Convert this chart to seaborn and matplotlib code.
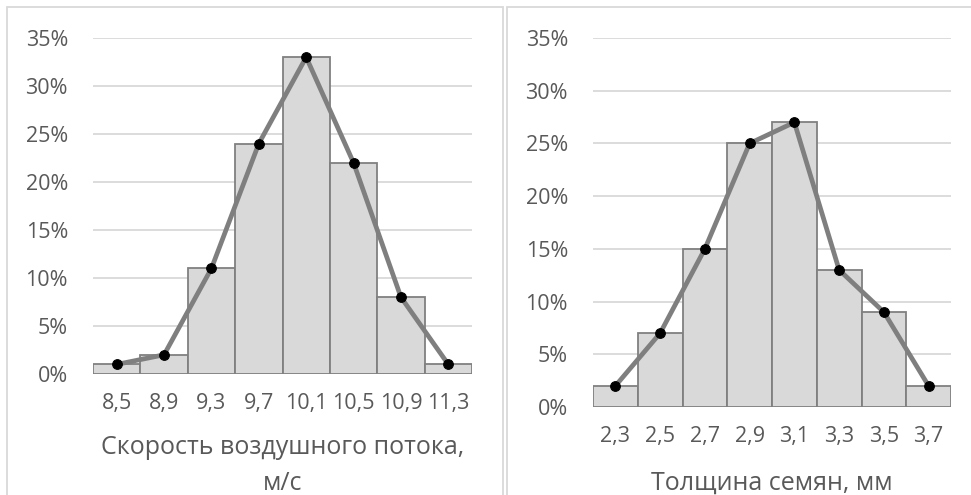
import matplotlib
matplotlib.use("Agg")
import matplotlib.pyplot as plt
from matplotlib.patches import Rectangle
from matplotlib.ticker import FuncFormatter, MultipleLocator
import seaborn as sns

# Air-flow speed distribution (m/s), share of seeds in %
speed_bins = ["8,5", "8,9", "9,3", "9,7", "10,1", "10,5", "10,9", "11,3"]
speed_share = [1, 2, 11, 24, 33, 22, 8, 1]

# Seed thickness distribution (mm), share of seeds in %
thick_bins = ["2,3", "2,5", "2,7", "2,9", "3,1", "3,3", "3,5", "3,7"]
thick_share = [2, 7, 15, 25, 27, 13, 9, 2]

speed_label = "Скорость воздушного потока,\nм/с"
thick_label = "Толщина семян, мм"

sns.set_style("white")
plt.rcParams["font.family"] = ["Open Sans", "DejaVu Sans"]

TEXT = "#595959"
GRID = "#d9d9d9"
BAR = "#d9d9d9"
EDGE = "#808080"
LINE = "#7f7f7f"
TICK_FS = 15.5
LABEL_FS = 18

W, H = 971, 495
fig = plt.figure(figsize=(W / 100, H / 100), dpi=100)


def px_axes(x0, x1, ytop, ybot):
    return fig.add_axes([x0 / W, 1 - ybot / H, (x1 - x0) / W, (ybot - ytop) / H])


def panel(ax, cats, vals, label, xlabelpad):
    sns.barplot(x=cats, y=vals, ax=ax, color=BAR, edgecolor=EDGE,
                linewidth=1.3, width=1.0, saturation=1, zorder=2)
    sns.lineplot(x=cats, y=vals, ax=ax, color=LINE, linewidth=3.4,
                 marker="o", markersize=7, markerfacecolor="black",
                 markeredgecolor="black", sort=False, zorder=3)
    ax.set_xlim(-0.5, len(cats) - 0.5)
    ax.set_ylim(0, 35)
    ax.yaxis.set_major_locator(MultipleLocator(5))
    ax.yaxis.set_major_formatter(FuncFormatter(lambda v, p: f"{v:.0f}%"))
    ax.grid(axis="y", color=GRID, linewidth=1.3, zorder=0)
    ax.grid(axis="x", visible=False)
    ax.set_axisbelow(True)
    for s in ax.spines.values():
        s.set_visible(False)
    ax.tick_params(axis="y", length=0, pad=18, labelsize=TICK_FS, labelcolor=TEXT)
    ax.tick_params(axis="x", length=0, pad=14, labelsize=TICK_FS, labelcolor=TEXT)
    ax.set_ylabel("")
    ax.set_xlabel(label, fontsize=LABEL_FS, color=TEXT, labelpad=xlabelpad,
                  linespacing=1.55)


ax1 = px_axes(93, 472, 38, 374)
panel(ax1, speed_bins, speed_share, speed_label, 15)

ax2 = px_axes(593, 951, 38, 407)
panel(ax2, thick_bins, thick_share, thick_label, 17)

# Chart frames
for x0, x1 in [(7, 503), (507, 985)]:
    fig.patches.append(Rectangle((x0 / W, -0.05), (x1 - x0) / W, 1.05 - 7 / H,
                                 transform=fig.transFigure, fill=False,
                                 edgecolor=GRID, linewidth=1.3))

fig.savefig("out.png", dpi=100)
